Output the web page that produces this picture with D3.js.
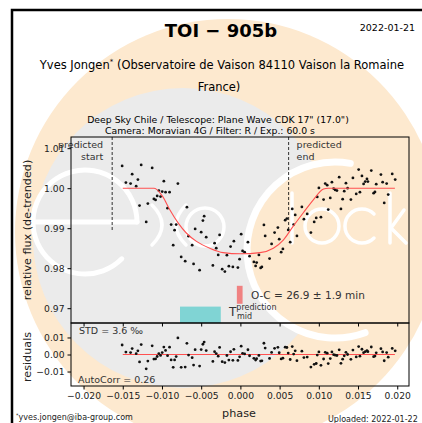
<!DOCTYPE html>
<html>
<head>
<meta charset="utf-8">
<script src="https://cdn.jsdelivr.net/npm/d3@7"></script>
<style>
  body { margin: 0; background: #fff; }
  svg { display: block; font-family: "DejaVu Sans", sans-serif; }
</style>
</head>
<body>
<div id="chart"></div>
<script>
const phase = [
  -0.01508, -0.01460, -0.01400, -0.01380, -0.01329, -0.01307, -0.01286, -0.01265, -0.01201, -0.01180,
  -0.01125, -0.01103, -0.01082, -0.01061, -0.01040, -0.01018, -0.00997, -0.00976, -0.00954, -0.00929,
  -0.00903, -0.00883, -0.00857, -0.00839, -0.00819, -0.00797, -0.00755, -0.00704, -0.00682, -0.00661,
  -0.00615, -0.00597, -0.00577, -0.00520, -0.00500, -0.00478, -0.00462, -0.00436, -0.00351, -0.00329,
  -0.00308, -0.00283, -0.00265, -0.00232, -0.00198, -0.00172, -0.00147, -0.00125, -0.00096, -0.00083,
  -0.00032, -0.00010, 0.00010, 0.00028, 0.00054, 0.00096, 0.00117, 0.00172, 0.00194, 0.00207,
  0.00236, 0.00258, 0.00274, 0.00300, 0.00316, 0.00372, 0.00398, 0.00436, 0.00478, 0.00495,
  0.00520, 0.00542, 0.00571, 0.00593, 0.00610, 0.00635, 0.00661, 0.00679, 0.00699, 0.00721,
  0.00784, 0.00810, 0.00852, 0.00899, 0.00941, 0.00967, 0.00980, 0.01001, 0.01027, 0.01061,
  0.01082, 0.01107, 0.01120, 0.01146, 0.01167, 0.01189, 0.01209, 0.01231, 0.01260, 0.01282,
  0.01304, 0.01324, 0.01346, 0.01367, 0.01409, 0.01435, 0.01477, 0.01508, 0.01524, 0.01550,
  0.01571, 0.01592, 0.01614, 0.01626, 0.01669, 0.01699, 0.01716, 0.01732, 0.01792, 0.01814,
  0.01834, 0.01865, 0.01885, 0.01936, 0.01974
];
const flux = [
  1.00558, 1.00140, 1.00115, 1.00350, 1.00050, 1.00215, 0.99565, 1.00583, 0.99158, 0.99615,
  1.00508, 0.99733, 0.99708, 0.99808, 0.99940, 0.99790, 0.99915, 1.00175, 0.99900, 0.99500,
  0.99900, 0.99090, 0.98575, 0.98950, 0.99090, 1.00115, 0.98283, 0.98175, 0.99525, 0.98800,
  0.98575, 0.98108, 0.98983, 0.97950, 0.98900, 0.99190, 0.99300, 0.98775, 0.98070, 0.98625,
  0.98500, 0.98333, 0.98833, 0.97975, 0.97915, 0.98325, 0.98050, 0.98540, 0.98033, 0.98675,
  0.98015, 0.98225, 0.98850, 0.98433, 0.98400, 0.98650, 0.98300, 0.98158, 0.98058, 0.98140,
  0.98333, 0.98008, 0.98033, 0.99083, 0.98808, 0.98240, 0.98608, 0.98890, 0.99015, 0.98725,
  0.98400, 0.98483, 0.99200, 0.99240, 0.98958, 0.98650, 0.99483, 0.99090, 0.99333, 0.98808,
  0.99533, 0.99225, 0.99358, 0.98890, 0.99158, 0.99258, 0.99783, 1.00008, 0.99275, 0.99715,
  1.00115, 1.00075, 0.99465, 0.99758, 1.00150, 0.99990, 0.99958, 0.99940, 1.00275, 0.99483,
  0.99725, 0.99925, 1.00125, 1.00000, 0.99715, 1.00258, 0.99858, 1.00465, 0.99900, 1.00308,
  1.00108, 1.00165, 1.00233, 1.00165, 1.00440, 0.99875, 0.99908, 1.00100, 1.00340, 1.00150,
  0.99633, 1.00115, 0.99840, 1.00358, 1.00215
];

// fitted transit model, vertices
const modelPhase = [-0.0150, -0.0110, -0.0099, -0.0090, -0.0079, -0.0069, -0.0056, -0.0039, -0.0022, 0.0000,
  0.0025, 0.0042, 0.0055, 0.0067, 0.0080, 0.0093, 0.0106, 0.0112, 0.0197];
const modelFlux = [1.0000, 1.0000, 0.9979, 0.9946, 0.9912, 0.9888, 0.9867, 0.9850, 0.9839, 0.9836,
  0.9839, 0.9850, 0.9871, 0.9904, 0.9938, 0.9971, 0.9998, 1.0000, 1.0000];

const xTicks = [-0.020, -0.015, -0.010, -0.005, 0.000, 0.005, 0.010, 0.015, 0.020];
const fluxTicks = [0.97, 0.98, 0.99, 1.00, 1.01];
const resTicks = [-0.01, 0.00, 0.01];

const predictedWindow = [-0.01635, 0.00615];   // predicted start / end
const predictedMid = [-0.0077, -0.0025];       // T_mid prediction band
const observedMid = [-0.00045, 0.00028];       // O-C marker
const ocText = 'O-C = 26.9 ± 1.9 min';
const stdText = 'STD = 3.6 ‰';
const autoCorrText = 'AutoCorr = 0.26';

const width = 422, height = 423;
const peach = '#fde9cf', grey = '#ebebeb';

const svg = d3.select('#chart').append('svg')
  .attr('width', width)
  .attr('height', height);

// ---- watermark behind everything ----
const wm = svg.append('g');
wm.append('circle').attr('cx', 228).attr('cy', 232).attr('r', 213).attr('fill', peach);
wm.append('circle').attr('cx', 183).attr('cy', 238).attr('r', 150).attr('fill', grey);
wm.append('circle').attr('cx', 335).attr('cy', 250).attr('r', 88).attr('fill', peach);

const ws = (d, w) => wm.append('path').attr('d', d).attr('fill', 'none')
  .attr('stroke', '#fff').attr('stroke-width', w).attr('stroke-linecap', 'round');
// big "C"
const cA = (a) => [335 + 88 * Math.cos(a * Math.PI / 180), 250 + 88 * Math.sin(a * Math.PI / 180)];
ws(`M${cA(-80)} A88,88 0 1 0 ${cA(70)}`, 7);
// "e"
ws('M137,222 A52,52 0 1 0 121.8,258.8', 5);
ws('M33,222 L137,222', 5);
// "x" and "o"
ws('M152,205 Q172,225 152,245', 3.5);
ws('M186,205 Q166,225 186,245', 3.5);
wm.append('circle').attr('cx', 205).attr('cy', 227).attr('r', 19)
  .attr('fill', 'none').attr('stroke', '#fff').attr('stroke-width', 3.5);
// "lock"
ws('M292,193 L292,243', 3.5);
wm.append('circle').attr('cx', 322).attr('cy', 226).attr('r', 17)
  .attr('fill', 'none').attr('stroke', '#fff').attr('stroke-width', 3.5);
ws('M374,214 A17,17 0 1 0 374,238', 3.5);
ws('M390,193 L390,243', 3.5);
ws('M404,210 L391,228 L406,243', 3.5);

// outer frame
svg.append('rect').attr('x', 12).attr('y', 10).attr('width', 500).attr('height', 500)
  .attr('fill', 'none').attr('stroke', '#000').attr('stroke-width', 2.5);

// ---- header texts ----
svg.append('text').attr('x', 221).attr('y', 37).attr('text-anchor', 'middle')
  .attr('font-size', 18).attr('font-weight', 'bold').text('TOI − 905b');
svg.append('text').attr('x', 415).attr('y', 31).attr('text-anchor', 'end')
  .attr('font-size', 9.5).text('2022-01-21');

const author = svg.append('text').attr('x', 222).attr('y', 69).attr('text-anchor', 'middle')
  .attr('font-size', 11.5);
author.append('tspan').text('Yves Jongen');
author.append('tspan').attr('font-size', 7).attr('dy', -5).text('*');
author.append('tspan').attr('dy', 5).text(' (Observatoire de Vaison 84110 Vaison la Romaine');
svg.append('text').attr('x', 219).attr('y', 91).attr('text-anchor', 'middle')
  .attr('font-size', 11.5).text('France)');

svg.append('text').attr('x', 218).attr('y', 123).attr('text-anchor', 'middle')
  .attr('font-size', 9.3).text('Deep Sky Chile / Telescope: Plane Wave CDK 17" (17.0")');
svg.append('text').attr('x', 210).attr('y', 134).attr('text-anchor', 'middle')
  .attr('font-size', 9.3).text('Camera: Moravian 4G / Filter: R / Exp.: 60.0 s');

// ---- scales ----
const plotLeft = 71, plotRight = 409, plotTop = 137, plotMid = 323, plotBottom = 386;
const x = d3.scaleLinear().domain([-0.0216, 0.0215]).range([plotLeft, plotRight]);
const y = d3.scaleLinear().domain([0.9663, 1.0128]).range([plotMid, plotTop]);
const yr = d3.scaleLinear().domain([-0.0185, 0.0185]).range([plotBottom, plotMid]);

const model = d3.scaleLinear().domain(modelPhase).range(modelFlux).clamp(true);
const points = phase.map((p, i) => ({ p: p, f: flux[i], r: flux[i] - model(p) }));

const fmt = d3.format('.2f');

// ---- main panel ----
const main = svg.append('g');

main.append('rect')
  .attr('x', x(predictedMid[0])).attr('width', x(predictedMid[1]) - x(predictedMid[0]))
  .attr('y', y(0.9704)).attr('height', plotMid - y(0.9704))
  .attr('fill', '#80d4d4');
main.append('rect')
  .attr('x', x(observedMid[0])).attr('width', x(observedMid[1]) - x(observedMid[0]))
  .attr('y', y(0.9756)).attr('height', y(0.9711) - y(0.9756))
  .attr('fill', '#f08282');

predictedWindow.forEach((p) => {
  main.append('line')
    .attr('x1', x(p)).attr('x2', x(p))
    .attr('y1', plotTop).attr('y2', y(0.9895))
    .attr('stroke', '#000').attr('stroke-width', 0.8).attr('stroke-dasharray', '3,2');
});

const note = (xp, yp, lines, anchor) => {
  lines.forEach((t, i) => {
    main.append('text').attr('x', xp).attr('y', yp + i * 12)
      .attr('text-anchor', anchor).attr('font-size', 9.5).attr('fill', '#333').text(t);
  });
};
note(x(predictedWindow[0]) - 9, 148, ['predicted', 'start'], 'end');
note(x(predictedWindow[1]) + 8, 148, ['predicted', 'end'], 'start');

main.selectAll('circle.pt').data(points).enter().append('circle')
  .attr('class', 'pt')
  .attr('cx', (d) => x(d.p)).attr('cy', (d) => y(d.f))
  .attr('r', 1.4).attr('fill', '#111');

const line = d3.line().x((d) => x(d[0])).y((d) => y(d[1])).curve(d3.curveMonotoneX);
main.append('path')
  .datum(modelPhase.map((p, i) => [p, modelFlux[i]]))
  .attr('fill', 'none').attr('stroke', '#ff5050').attr('stroke-width', 1.1)
  .attr('d', line);

main.append('text').attr('x', 251).attr('y', 299).attr('font-size', 10.5).attr('fill', '#333').text(ocText);
const tm = main.append('text').attr('x', 229).attr('y', 316).attr('font-size', 12).attr('fill', '#333');
tm.append('tspan').text('T');
tm.append('tspan').attr('font-size', 8).attr('dy', -6).text('prediction');
main.append('text').attr('x', 237).attr('y', 319).attr('font-size', 8).attr('fill', '#333').text('mid');

main.append('g').attr('transform', `translate(${plotLeft},0)`)
  .call(d3.axisLeft(y).tickValues(fluxTicks).tickFormat(fmt).tickSize(3.5).tickPadding(3));
main.append('g').attr('transform', `translate(0,${plotMid})`)
  .call(d3.axisBottom(x).tickValues(xTicks).tickFormat('').tickSize(3.5));
main.append('rect').attr('x', plotLeft).attr('y', plotTop)
  .attr('width', plotRight - plotLeft).attr('height', plotMid - plotTop)
  .attr('fill', 'none').attr('stroke', '#000').attr('stroke-width', 1);

// ---- residual panel ----
const res = svg.append('g');
res.append('line')
  .attr('x1', x(modelPhase[0])).attr('x2', x(modelPhase[modelPhase.length - 1]))
  .attr('y1', yr(0)).attr('y2', yr(0))
  .attr('stroke', '#ff5050').attr('stroke-width', 1.1);
res.selectAll('circle').data(points).enter().append('circle')
  .attr('cx', (d) => x(d.p)).attr('cy', (d) => yr(d.r))
  .attr('r', 1.4).attr('fill', '#111');

res.append('text').attr('x', 79).attr('y', 334).attr('font-size', 9.5).attr('fill', '#333').text(stdText);
res.append('text').attr('x', 78).attr('y', 383).attr('font-size', 9.5).attr('fill', '#333').text(autoCorrText);

res.append('g').attr('transform', `translate(${plotLeft},0)`)
  .call(d3.axisLeft(yr).tickValues(resTicks).tickFormat(fmt).tickSize(3.5).tickPadding(3));
res.append('g').attr('transform', `translate(0,${plotBottom})`)
  .call(d3.axisBottom(x).tickValues(xTicks).tickFormat(d3.format('.3f')).tickSize(3.5).tickPadding(3));
res.append('rect').attr('x', plotLeft).attr('y', plotMid)
  .attr('width', plotRight - plotLeft).attr('height', plotBottom - plotMid)
  .attr('fill', 'none').attr('stroke', '#000').attr('stroke-width', 1);

svg.selectAll('.domain').remove();
svg.selectAll('.tick text').attr('font-size', 9.2).attr('fill', '#222').attr('font-family', '"DejaVu Sans", sans-serif');
svg.selectAll('.tick line').attr('stroke', '#000');

// ---- axis labels ----
svg.append('text').attr('transform', 'translate(31,230) rotate(-90)').attr('text-anchor', 'middle')
  .attr('font-size', 11.2).attr('fill', '#222').text('relative flux (de-trended)');
svg.append('text').attr('transform', 'translate(31,357) rotate(-90)').attr('text-anchor', 'middle')
  .attr('font-size', 11.2).attr('fill', '#222').text('residuals');
svg.append('text').attr('x', 239).attr('y', 417).attr('text-anchor', 'middle')
  .attr('font-size', 11.2).attr('fill', '#222').text('phase');

// ---- footer ----
const mail = svg.append('text').attr('x', 16).attr('y', 420).attr('font-size', 8).attr('fill', '#222');
mail.append('tspan').attr('font-size', 5).attr('dy', -3).text('*');
mail.append('tspan').attr('dy', 3).text('yves.jongen@iba-group.com');
svg.append('text').attr('x', 328).attr('y', 422).attr('font-size', 8).attr('fill', '#222')
  .text('Uploaded: 2022-01-22');
</script>
</body>
</html>
